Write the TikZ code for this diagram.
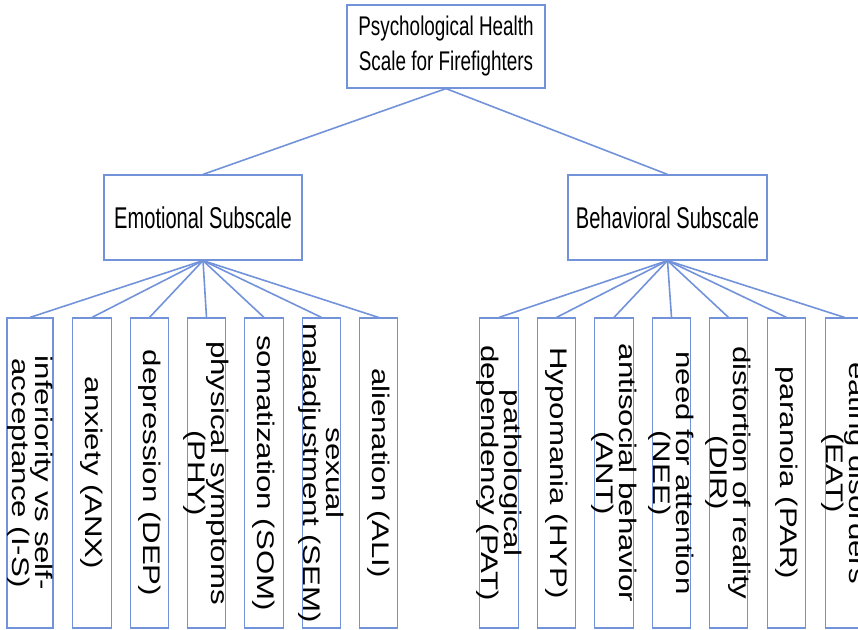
\documentclass[tikz,border=0pt]{standalone}
\usepackage{fontspec}
\usepackage{xcolor}
\usepackage{tikz}

\setmainfont{Liberation Sans}
\newfontfamily\headfont[FakeStretch=0.70]{Liberation Sans}
\newfontfamily\subfont[FakeStretch=0.67]{Liberation Sans}
\newfontfamily\leaffont[FakeStretch=1.3]{Liberation Sans}
\definecolor{boxblue}{RGB}{114,147,218}

\begin{document}
\begin{tikzpicture}[x=1pt, y=-1pt,
  box/.style={draw=boxblue, line width=1.2pt, inner sep=0pt, align=center, text=black},
  leaf/.style={box, rotate=-90, minimum width=310pt, minimum height=38.5pt},
  leaftext/.style={rotate=-90, inner sep=0pt, align=center, text=black,
    font=\leaffont\fontsize{24}{23}\selectfont},
  link/.style={draw=boxblue, line width=1.6pt}]
  \useasboundingbox (0,0) rectangle (858,629);
  % ---- scale and subscales ----
  \node[box, minimum width=198pt, minimum height=83pt, font=\headfont\fontsize{27}{35}\selectfont]
    (scale) at (446,46.5) {Psychological Health\\Scale for Firefighters};
  \node[box, minimum width=198pt, minimum height=85pt, font=\subfont\fontsize{30}{35}\selectfont]
    (emo) at (203,217.5) {Emotional Subscale};
  \node[box, minimum width=199pt, minimum height=85pt, font=\subfont\fontsize{30}{35}\selectfont]
    (beh) at (667.5,217.5) {Behavioral Subscale};
  \draw[link] (scale.south) -- (emo.north);
  \draw[link] (scale.south) -- (beh.north);
  % ---- emotional items ----
  \node[leaf, minimum height=46pt] (ins) at (30,473) {};
  \node[leaf] (anx) at (92,473) {};
  \node[leaf] (dep) at (149.5,473) {};
  \node[leaf] (phy) at (206.5,473) {};
  \node[leaf] (som) at (264,473) {};
  \node[leaf] (sem) at (321.5,473) {};
  \node[leaf] (ali) at (378.5,473) {};
  \node[leaftext] (ins-t) at (ins) {inferiority vs self-\\acceptance (I-S)};
  \node[leaftext] (anx-t) at (anx) {anxiety (ANX)};
  \node[leaftext] (dep-t) at (dep) {depression (DEP)};
  \node[leaftext] (phy-t) at (phy) {physical symptoms\\(PHY)};
  \node[leaftext] (som-t) at (som) {somatization (SOM)};
  \node[leaftext] (sem-t) at (sem) {sexual\\maladjustment (SEM)};
  \node[leaftext] (ali-t) at (ali) {alienation (ALI)};
  \draw[link] (emo.south) -- (ins.west);
  \draw[link] (emo.south) -- (anx.west);
  \draw[link] (emo.south) -- (dep.west);
  \draw[link] (emo.south) -- (phy.west);
  \draw[link] (emo.south) -- (som.west);
  \draw[link] (emo.south) -- (sem.west);
  \draw[link] (emo.south) -- (ali.west);
  % ---- behavioral items ----
  \node[leaf] (pat) at (499,473) {};
  \node[leaf] (hyp) at (556.5,473) {};
  \node[leaf] (ant) at (614,473) {};
  \node[leaf] (nee) at (671.5,473) {};
  \node[leaf] (dir) at (728.5,473) {};
  \node[leaf] (par) at (786.5,473) {};
  \node[leaf] (eat) at (844.5,473) {};
  \node[leaftext] (pat-t) at (pat) {pathological\\dependency (PAT)};
  \node[leaftext] (hyp-t) at (hyp) {Hypomania (HYP)};
  \node[leaftext] (ant-t) at (ant) {antisocial behavior\\(ANT)};
  \node[leaftext] (nee-t) at (nee) {need for attention\\(NEE)};
  \node[leaftext] (dir-t) at (dir) {distortion of reality\\(DIR)};
  \node[leaftext] (par-t) at (par) {paranoia (PAR)};
  \node[leaftext] (eat-t) at (eat) {eating disorders\\(EAT)};
  \draw[link] (beh.south) -- (pat.west);
  \draw[link] (beh.south) -- (hyp.west);
  \draw[link] (beh.south) -- (ant.west);
  \draw[link] (beh.south) -- (nee.west);
  \draw[link] (beh.south) -- (dir.west);
  \draw[link] (beh.south) -- (par.west);
  \draw[link] (beh.south) -- (eat.west);
\end{tikzpicture}
\end{document}
